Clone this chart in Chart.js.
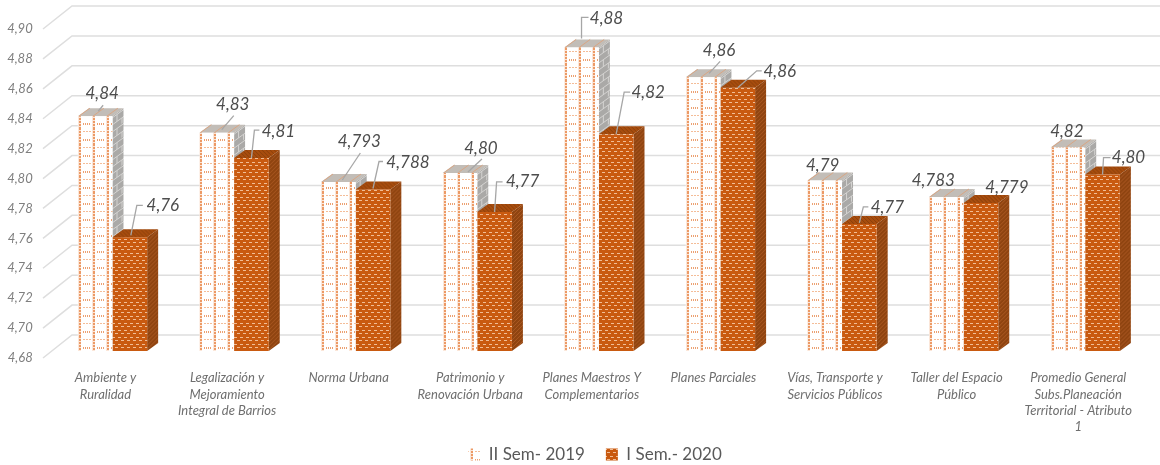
<!DOCTYPE html>
<html>
<head>
<meta charset="utf-8">
<style>
  html, body { margin: 0; padding: 0; background: #fff; }
  canvas { display: block; }
</style>
<script src="https://cdn.jsdelivr.net/npm/chart.js@4/dist/chart.umd.min.js"></script>
</head>
<body>
<canvas id="chart" width="1160" height="465"></canvas>
<script>
const categories = [
  ["Ambiente y", "Ruralidad"],
  ["Legalización y", "Mejoramiento", "Integral de Barrios"],
  ["Norma Urbana"],
  ["Patrimonio y", "Renovación Urbana"],
  ["Planes Maestros Y", "Complementarios"],
  ["Planes Parciales"],
  ["Vías, Transporte y", "Servicios Públicos"],
  ["Taller del Espacio", "Público"],
  ["Promedio General", "Subs.Planeación", "Territorial - Atributo", "1"]
]
const sem2019 = [4.837, 4.826, 4.793, 4.799, 4.883, 4.863, 4.794, 4.783, 4.816]
const sem2020 = [4.756, 4.809, 4.788, 4.773, 4.825, 4.856, 4.765, 4.779, 4.798]
const labels2019 = ["4,84", "4,83", "4,793", "4,80", "4,88", "4,86", "4,79", "4,783", "4,82"]
const labels2020 = ["4,76", "4,81", "4,788", "4,77", "4,82", "4,86", "4,77", "4,779", "4,80"]

// where each value label sits relative to the top of its bar: [dx, dy, leader line]
const place2019 = [
  [7, -23, [[3, -5], [8, -11]]],
  [16, -28, [[5, -3], [17, -17]]],
  [21, -40, [[4, -2], [22, -29]]],
  [21, -25, [[8, -1], [22, -14]]],
  [25, -29, [[0, -9], [0, -30], [7, -30]]],
  [16, -27, [[6, -4], [17, -16]]],
  [-2, -15, []],
  [-13, -16, []],
  [-1, -16, []]
]
const place2020 = [
  [33, -32, [[1, -2], [7, -32], [13, -32]]],
  [27, -27, [[0, 0], [3, -28], [8, -28]]],
  [35, -27, [[0, -1], [6, -28], [10, -28]]],
  [28, -30, [[0, 0], [2, -30], [8, -30]]],
  [32, -42, [[0, 0], [8, -42], [14, -42]]],
  [42, -16, [[0, 0], [19, -17], [24, -17]]],
  [28, -16, [[0, -1], [4, -17], [9, -17]]],
  [26, -15, []],
  [26, -17, [[0, 0], [1, -17], [8, -17]]]
]

const depthX = 11
const depthY = 8
const stripeStep = 14
const catPct = 0.57

const canvas = document.getElementById("chart")
const ctx = canvas.getContext("2d")

function makeTile(w, h, draw) {
  const tile = document.createElement("canvas")
  tile.width = w
  tile.height = h
  draw(tile.getContext("2d"))
  return tile
}

// white brick front of the 2019 bars
const tile2019 = makeTile(stripeStep, 16, t => {
  t.fillStyle = "#fff"
  t.fillRect(0, 0, 14, 16)
  t.fillStyle = "#fbe6d8"
  t.fillRect(0, 0, 3, 16)
  for (let y = 0; y < 16; y += 3) {
    t.fillStyle = "#ec9a66"
    t.fillRect(1, y, 2, 2)
  }
  t.fillStyle = "#f4bd98"
  for (let x = 5; x < 13; x += 3) t.fillRect(x, 3, 2, 1)
  t.fillStyle = "#eca172"
  for (let x = 5; x < 13; x += 2) t.fillRect(x, 11, 1, 2)
})

// orange front of the 2020 bars with light staggered dots
const tile2020 = makeTile(6, 7, t => {
  t.fillStyle = "#c95a10"
  t.fillRect(0, 0, 6, 7)
  t.fillStyle = "#f1bd95"
  t.fillRect(0, 1, 3, 1)
  t.fillRect(3, 4, 3, 1)
})

const sideTile2019 = makeTile(11, 14, t => {
  t.fillStyle = "#aaa9a7"
  t.fillRect(0, 0, 11, 14)
  t.fillStyle = "#d4d3d1"
  t.fillRect(0, 1, 11, 1)
  t.fillRect(0, 8, 11, 1)
  t.fillRect(4, 1, 1, 7)
  t.fillRect(9, 8, 1, 7)
})

const sideTile2020 = makeTile(4, 4, t => {
  t.fillStyle = "#8f4410"
  t.fillRect(0, 0, 4, 4)
  t.fillStyle = "#ad5a24"
  for (let i = 0; i < 4; i++) t.fillRect(i, 3 - i, 1, 1)
})

const topTile2020 = makeTile(4, 4, t => {
  t.fillStyle = "#a84d0e"
  t.fillRect(0, 0, 4, 4)
  t.fillStyle = "#8a3f0b"
  for (let i = 0; i < 4; i++) t.fillRect(i, i, 1, 1)
})

function pattern(tile, x, y, skew) {
  const p = ctx.createPattern(tile, "repeat")
  p.setTransform(new DOMMatrix([1, skew || 0, 0, 1, x || 0, y || 0]))
  return p
}

// lines the pattern up with the left edge of each bar, elements are not placed yet here
function frontFill(tile) {
  return c => {
    if (c.dataIndex === undefined) return pattern(tile, 1, 1)
    const x = c.chart.scales.x
    const half = x.width / categories.length * catPct / 2
    const left = x.getPixelForValue(c.dataIndex) - (c.datasetIndex === 0 ? half : 0)
    return pattern(tile, Math.round(left))
  }
}

function face(c, pts, fill) {
  c.beginPath()
  pts.forEach((p, i) => i ? c.lineTo(p[0], p[1]) : c.moveTo(p[0], p[1]))
  c.closePath()
  c.fillStyle = fill
  c.fill()
}

function drawBarDepth(c, bar, base, is2019) {
  const left = bar.x - bar.width / 2
  const right = bar.x + bar.width / 2
  const top = bar.y
  const slope = -depthY / depthX
  face(c, [[right, top], [right + depthX, top - depthY], [right + depthX, base - depthY], [right, base]],
    is2019 ? pattern(sideTile2019, right, top, slope) : pattern(sideTile2020, right, top))
  face(c, [[left, top], [left + depthX, top - depthY], [right + depthX, top - depthY], [right, top]],
    is2019 ? "#c2bdb7" : pattern(topTile2020, left, top))
  if (is2019) {
    c.strokeStyle = "#d9a684"
    c.lineWidth = 1
    for (let x = left + 1; x < right; x += stripeStep) {
      c.beginPath()
      c.moveTo(x, top)
      c.lineTo(x + depthX, top - depthY)
      c.stroke()
    }
  }
}

const depthPlugin = {
  id: "depth",
  // tick labels get clipped to the axis boxes, let them use the free margin
  afterLayout(chart) {
    chart.scales.y.left = 0
    chart.scales.x.bottom = chart.height
  },
  beforeDatasetsDraw(chart) {
    const c = chart.ctx
    const y = chart.scales.y
    // back wall grid lines, running forward to the tick labels
    c.save()
    c.strokeStyle = "#dedede"
    c.lineWidth = 1.5
    y.ticks.forEach(t => {
      const py = y.getPixelForValue(t.value)
      c.beginPath()
      c.moveTo(43, py + 7)
      c.lineTo(72, py - 16)
      c.lineTo(1160, py - 16)
      c.stroke()
    })
    const first = chart.getDatasetMeta(0).data
    const second = chart.getDatasetMeta(1).data
    first.forEach((bar, i) => {
      drawBarDepth(c, bar, y.bottom, true)
      drawBarDepth(c, second[i], y.bottom, false)
    })
    c.restore()
  },
  afterDatasetsDraw(chart) {
    const c = chart.ctx
    c.save()
    c.font = "italic 17px Lato"
    c.textAlign = "center"
    c.textBaseline = "middle"
    ;[[0, labels2019, place2019], [1, labels2020, place2020]].forEach(([ds, texts, places]) => {
      chart.getDatasetMeta(ds).data.forEach((bar, i) => {
        const [dx, dy, leader] = places[i]
        if (leader.length) {
          c.strokeStyle = "#a6a6a6"
          c.lineWidth = 1.3
          c.beginPath()
          leader.forEach((p, j) => {
            if (j) c.lineTo(bar.x + p[0], bar.y + p[1])
            else c.moveTo(bar.x + p[0], bar.y + p[1])
          })
          c.stroke()
        }
        c.fillStyle = "#4d4d4d"
        c.fillText(texts[i], bar.x + dx, bar.y + dy)
      })
    })
    c.restore()
  }
}

new Chart(canvas, {
  type: "bar",
  plugins: [depthPlugin],
  data: {
    labels: categories,
    datasets: [
      { label: "II Sem- 2019", data: sem2019, backgroundColor: frontFill(tile2019), borderWidth: 0 },
      { label: "I Sem.- 2020", data: sem2020, backgroundColor: frontFill(tile2020), borderWidth: 0 }
    ]
  },
  options: {
    responsive: false,
    animation: false,
    // left padding only pushes the legend over, the y axis width below makes up for it
    layout: { autoPadding: false, padding: { top: 22, right: 14, left: 44, bottom: -8 } },
    datasets: { bar: { categoryPercentage: catPct, barPercentage: 1 } },
    plugins: {
      tooltip: { enabled: false },
      legend: {
        position: "bottom",
        labels: {
          boxWidth: 12,
          boxHeight: 12,
          padding: 21,
          color: "#595959",
          font: { family: "Lato", size: 17 }
        }
      }
    },
    scales: {
      x: {
        grid: { display: false, drawTicks: false },
        border: { display: false },
        afterFit(s) { s.height = 74 },
        ticks: {
          autoSkip: false,
          maxRotation: 0,
          padding: 19,
          labelOffset: -7,
          color: "#6f6f6f",
          font: { family: "Lato", size: 13, style: "italic", lineHeight: 1.25 }
        }
      },
      y: {
        min: 4.68,
        max: 4.9,
        // tick length instead of tick padding, padding would push the chart area down
        grid: { display: false, drawTicks: true, tickLength: 19 },
        border: { display: false },
        afterFit(s) { s.width = 7.7 },
        ticks: {
          stepSize: 0.02,
          padding: 0,
          labelOffset: 7,
          color: "#7f7f7f",
          font: { family: "Lato", size: 13, style: "italic" },
          callback: v => v.toFixed(2).replace(".", ",")
        }
      }
    }
  }
})
</script>
</body>
</html>
